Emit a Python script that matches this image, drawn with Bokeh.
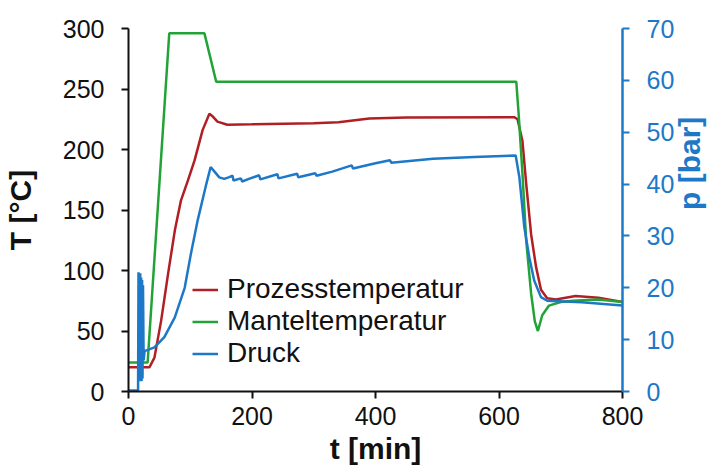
import math
from bokeh.plotting import figure
from bokeh.models import Range1d, LinearAxis, FixedTicker, Legend, LegendItem
from bokeh.embed import file_html
from bokeh.resources import INLINE

# ---- data ----
t_proc = [0, 34, 42, 53, 64, 75, 85, 96, 107, 120, 131, 137, 144, 160, 200, 300, 340, 390, 450, 625,
          630, 638, 644, 652, 660, 668, 678, 692, 724, 761, 800]
T_proc = [20, 20, 28, 59, 97, 133, 158, 174, 191, 216, 229.5, 227, 223, 220.5, 220.8, 221.7, 222.5, 225.7, 226.5, 226.7,
          225, 207, 172, 130, 103, 84, 77, 76, 79, 77.5, 74]

t_mantel = [0, 31, 66, 123, 142, 300, 628, 632, 638, 644, 652, 658, 663, 670, 681, 700, 720, 761, 800]
T_mantel = [24, 24, 296, 296, 256, 256, 256, 228, 180, 125, 81, 58, 50, 63, 71, 74, 75, 76, 74]

t_druck = [0, 15.5, 16.2, 16.8, 17.5, 18.2, 19, 19.7, 20.5, 21.2, 22, 22.7, 23.5, 24.5, 26, 42, 58, 75, 91,
           101, 112, 126, 133, 140, 147, 155, 162, 168.5, 170, 182, 184, 195, 211.5, 213.5, 241, 243, 273,
           275, 302.5, 304.5, 330, 361.5, 363.5, 400, 423.5, 425.5, 493, 560, 627, 633, 641, 649, 657, 668,
           678, 734, 800]
p_druck = [0.2, 0.2, 23, 2, 22.5, 2, 22.8, 2.5, 22, 2, 21.5, 2.5, 20.5, 6, 7.8, 8.5, 10.5, 14.3, 20,
           26.5, 33, 40, 43.3, 42.3, 41.3, 41.0, 41.3, 41.6, 40.7, 41.1, 40.5, 41.0, 41.7, 40.9, 41.9, 41.1, 42.0,
           41.3, 42.1, 41.6, 42.4, 43.6, 43.0, 44.0, 44.6, 44.1, 44.9, 45.2, 45.5, 41.3, 31.7, 25.9, 21.4, 18.2,
           17.5, 17.2, 16.6]

x_ticks = [0, 200, 400, 600, 800]
T_ticks = [0, 50, 100, 150, 200, 250, 300]
p_ticks = [0, 10, 20, 30, 40, 50, 60, 70]

names = ["Prozesstemperatur", "Manteltemperatur", "Druck"]
x_title, T_title, p_title = "t [min]", "T [°C]", "p [bar]"
RED, GREEN, BLUE = "#B01F24", "#22A336", "#1E78C8"
FONT = "Liberation Sans"
DARK = "#111111"

p = figure(width=725, height=475, output_backend="svg", toolbar_location=None,
           x_range=Range1d(0, 800), y_range=Range1d(0, 300),
           min_border_left=127, min_border_right=101, min_border_top=28, min_border_bottom=84)
p.extra_y_ranges = {"p": Range1d(0, 70)}
p.outline_line_color = None
p.xgrid.visible = False
p.ygrid.visible = False
p.background_fill_color = "white"
p.border_fill_color = "white"

r1 = p.line(t_proc, T_proc, line_color=RED, line_width=2.5)
r2 = p.line(t_mantel, T_mantel, line_color=GREEN, line_width=2.5)
r3 = p.line(t_druck, p_druck, line_color=BLUE, line_width=2.5, y_range_name="p")

def style(ax, color, ticks, title):
    ax.ticker = FixedTicker(ticks=ticks)
    ax.axis_line_color = color
    ax.axis_line_width = 2
    ax.major_tick_line_color = color
    ax.major_tick_line_width = 2
    ax.major_tick_out = 7
    ax.major_tick_in = 0
    ax.minor_tick_line_color = None
    ax.major_label_text_color = color
    ax.major_label_text_font = FONT
    ax.major_label_text_font_size = "25px"
    ax.axis_label = title
    ax.axis_label_text_color = color
    ax.axis_label_text_font = FONT
    ax.axis_label_text_font_style = "bold"
    ax.axis_label_text_font_size = "30px"

xa = p.xaxis[0]
style(xa, DARK, x_ticks, x_title)
xa.major_label_standoff = 8
xa.axis_label_standoff = 4

ya = p.yaxis[0]
style(ya, DARK, T_ticks, T_title)
ya.major_label_standoff = 17
ya.axis_label_standoff = 23

ra = LinearAxis(y_range_name="p")
style(ra, BLUE, p_ticks, p_title)
ra.axis_line_width = 2.5
ra.major_label_standoff = 17
ra.axis_label_standoff = 12
if "axis_label_orientation" in ra.properties():
    ra.axis_label_orientation = math.pi / 2
p.add_layout(ra, "right")

legend = Legend(items=[LegendItem(label=names[0], renderers=[r1]),
                       LegendItem(label=names[1], renderers=[r2]),
                       LegendItem(label=names[2], renderers=[r3])],
                location=(64, 22), orientation="vertical")
legend.background_fill_alpha = 0
legend.border_line_color = None
legend.padding = 0
legend.margin = 0
legend.spacing = 0
legend.glyph_width = 26
legend.glyph_height = 29
legend.label_height = 29
legend.label_standoff = 9
legend.label_text_font = FONT
legend.label_text_font_size = "28px"
legend.label_text_color = DARK
p.add_layout(legend, "center")

open("out.html", "w").write(file_html(p, INLINE))
